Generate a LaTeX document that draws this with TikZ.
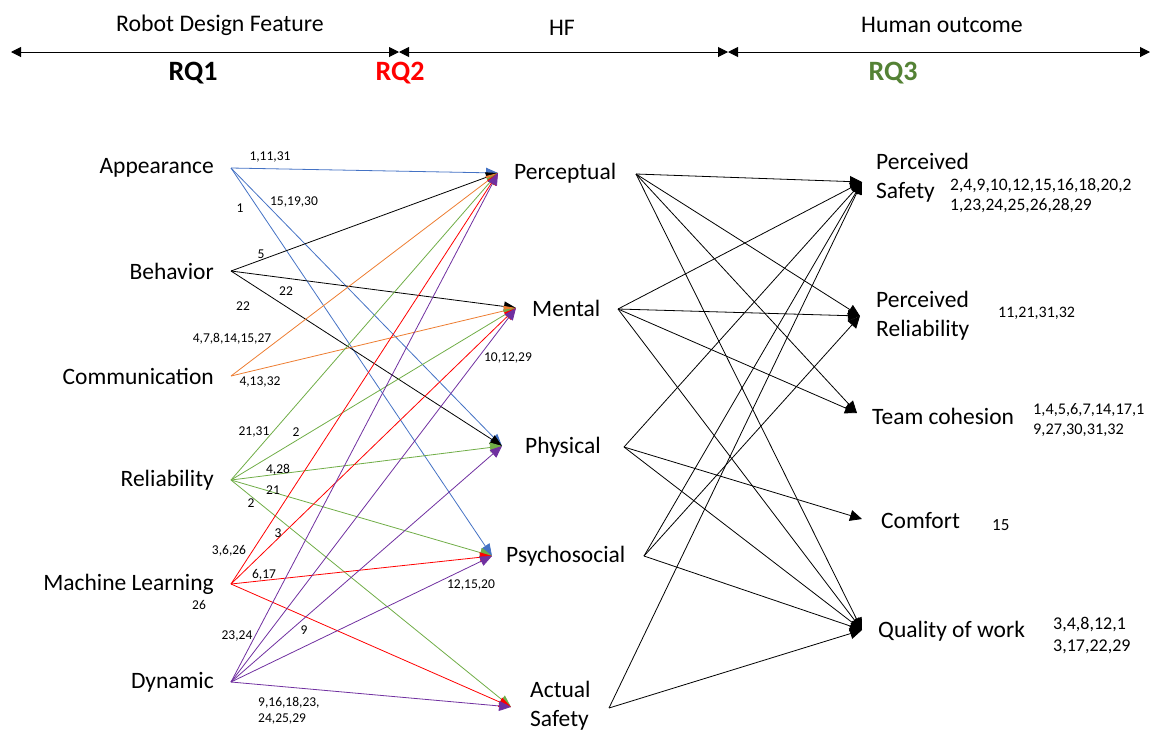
\documentclass[tikz,border=0pt]{standalone}
\usepackage{fontspec}
\setmainfont{Carlito}
\usetikzlibrary{arrows.meta}
\definecolor{cblue}{HTML}{4472C4}
\definecolor{corange}{HTML}{ED7D31}
\definecolor{cgreen}{HTML}{70AD47}
\definecolor{cred}{HTML}{FF0000}
\definecolor{cpurple}{HTML}{7030A0}
\definecolor{rqgreen}{HTML}{548235}
\begin{document}
\begin{tikzpicture}[x=1pt,y=-1pt,
  big/.style={font=\fontsize{23.5}{29}\selectfont, inner sep=0pt, align=left},
  head/.style={font=\fontsize{23.8}{28}\selectfont, inner sep=0pt},
  rq/.style={font=\fontsize{28}{30}\selectfont\bfseries, inner sep=0pt},
  num/.style={font=\fontsize{13.5}{16}\selectfont, inner sep=0pt, align=left},
  rnum/.style={font=\fontsize{17.5}{20}\selectfont, inner sep=0pt, align=left, anchor=west},
  link/.style={line width=0.8pt, -{Triangle[length=12pt,width=10pt]}},
  outlink/.style={line width=0.8pt, black, -{Triangle[length=12pt,width=11pt]}},
  span/.style={line width=1pt, {Triangle[length=10pt,width=10pt]}-{Triangle[length=10pt,width=10pt]}}]
\useasboundingbox (0,0) rectangle (1159,732);

% ---- header scale ----
\coordinate (t0) at (11,52);
\coordinate (t1) at (399,52);
\coordinate (t2) at (728,52);
\coordinate (t3) at (1150,52);
\draw[span] (t0) -- (t1);
\draw[span] (t1) -- (t2);
\draw[span] (t2) -- (t3);
\node[head] (hrdf) at (220,25) {Robot Design Feature};
\node[head] (hhf) at (562,28) {HF};
\node[head] (hho) at (942,25) {Human outcome};
\node[rq] (rq1) at (193,73) {RQ1};
\node[rq, text=cred] (rq2) at (400,73) {RQ2};
\node[rq, text=rqgreen] (rq3) at (893,73) {RQ3};

% ---- robot design features ----
\node[big, anchor=east] (app) at (214,168) {Appearance};
\node[big, anchor=east] (beh) at (214,271) {Behavior};
\node[big, anchor=east] (com) at (214,376) {Communication};
\node[big, anchor=east] (rel) at (214,480) {Reliability};
\node[big, anchor=east] (ml)  at (214,584) {Machine Learning};
\node[big, anchor=east] (dyn) at (214,682) {Dynamic};
\coordinate (app-o) at (231,168);
\coordinate (beh-o) at (231,271);
\coordinate (com-o) at (231,376);
\coordinate (rel-o) at (231,480);
\coordinate (ml-o)  at (231,584);
\coordinate (dyn-o) at (231,682);

% ---- human factors ----
\node[big, anchor=west] (perc) at (514,173) {Perceptual};
\node[big, anchor=west] (ment) at (532,308) {Mental};
\node[big, anchor=west] (phys) at (525,447) {Physical};
\node[big, anchor=west] (psy)  at (506,556) {Psychosocial};
\node[big, anchor=west] (act)  at (530,706) {Actual\\Safety};
\coordinate (perc-i) at (498,173);
\coordinate (ment-i) at (516,308);
\coordinate (phys-i) at (502,446);
\coordinate (psy-i)  at (492,556);
\coordinate (act-i)  at (511,707);
\coordinate (perc-o) at (636,174);
\coordinate (ment-o) at (618,309);
\coordinate (phys-o) at (624,447);
\coordinate (psy-o)  at (644,556);
\coordinate (act-o)  at (609,708);

% ---- human outcomes ----
\node[big, anchor=west] (ps) at (876,178) {Perceived\\Safety};
\node[big, anchor=west] (pr) at (876,316) {Perceived\\Reliability};
\node[big, anchor=west] (tc) at (872,416) {Team cohesion};
\node[big, anchor=west] (cf) at (881,521) {Comfort};
\node[big, anchor=west] (qw) at (878,631) {Quality of work};
\coordinate (ps-i) at (862,182);
\coordinate (pr-i) at (860,316);
\coordinate (tc-i) at (857,413);
\coordinate (cf-i) at (862,519);
\coordinate (qw-i) at (862,630);

% ---- features to human factors ----
\draw[link, cblue] (app-o) -- (perc-i);
\draw[link, cblue] (app-o) -- (phys-i);
\draw[link, cblue] (app-o) -- (psy-i);
\draw[link, black] (beh-o) -- (perc-i);
\draw[link, black] (beh-o) -- (ment-i);
\draw[link, black] (beh-o) -- (phys-i);
\draw[link, corange] (com-o) -- (perc-i);
\draw[link, corange] (com-o) -- (ment-i);
\draw[link, cgreen] (rel-o) -- (perc-i);
\draw[link, cgreen] (rel-o) -- (ment-i);
\draw[link, cgreen] (rel-o) -- (phys-i);
\draw[link, cgreen] (rel-o) -- (psy-i);
\draw[link, cgreen] (rel-o) -- (act-i);
\draw[link, cred] (ml-o) -- (perc-i);
\draw[link, cred] (ml-o) -- (ment-i);
\draw[link, cred] (ml-o) -- (psy-i);
\draw[link, cred] (ml-o) -- (act-i);
\draw[link, cpurple] (dyn-o) -- (perc-i);
\draw[link, cpurple] (dyn-o) -- (ment-i);
\draw[link, cpurple] (dyn-o) -- (phys-i);
\draw[link, cpurple] (dyn-o) -- (psy-i);
\draw[link, cpurple] (dyn-o) -- (act-i);

% ---- human factors to outcomes ----
\draw[outlink] (perc-o) -- (ps-i);
\draw[outlink] (perc-o) -- (pr-i);
\draw[outlink] (perc-o) -- (tc-i);
\draw[outlink] (perc-o) -- (qw-i);
\draw[outlink] (ment-o) -- (ps-i);
\draw[outlink] (ment-o) -- (pr-i);
\draw[outlink] (ment-o) -- (tc-i);
\draw[outlink] (ment-o) -- (qw-i);
\draw[outlink] (phys-o) -- (ps-i);
\draw[outlink] (phys-o) -- (cf-i);
\draw[outlink] (phys-o) -- (qw-i);
\draw[outlink] (psy-o) -- (ps-i);
\draw[outlink] (psy-o) -- (pr-i);
\draw[outlink] (psy-o) -- (qw-i);
\draw[outlink] (act-o) -- (ps-i);
\draw[outlink] (act-o) -- (qw-i);

% ---- study references on the left links ----
\node[num] (n1) at (270,157) {1,11,31};
\node[num] (n2) at (294,202) {15,19,30};
\node[num] (n3) at (240,208) {1};
\node[num] (n4) at (261,254) {5};
\node[num] (n5) at (286,291) {22};
\node[num] (n6) at (243,306) {22};
\node[num] (n7) at (232,339) {4,7,8,14,15,27};
\node[num] (n8) at (260,382) {4,13,32};
\node[num] (n9) at (254,432) {21,31};
\node[num] (n10) at (296,432) {2};
\node[num] (n11) at (278,470) {4,28};
\node[num] (n12) at (273,490) {21};
\node[num] (n13) at (251,503) {2};
\node[num] (n14) at (278,533) {3};
\node[num] (n15) at (229,551) {3,6,26};
\node[num] (n16) at (264,575) {6,17};
\node[num] (n17) at (199,605) {26};
\node[num] (n18) at (237,636) {23,24};
\node[num] (n19) at (304,630) {9};
\node[num] (n20) at (508,358) {10,12,29};
\node[num] (n21) at (471,585) {12,15,20};
\node[num, anchor=west] (n22) at (258,711) {9,16,18,23,\\24,25,29};

% ---- study references on the outcomes ----
\node[rnum] (r1) at (950,196) {2,4,9,10,12,15,16,18,20,2\\1,23,24,25,26,28,29};
\node[rnum, font=\fontsize{16}{19}\selectfont] (r2) at (998,313) {11,21,31,32};
\node[rnum, font=\fontsize{16.3}{20}\selectfont] (r3) at (1033,420) {1,4,5,6,7,14,17,1\\9,27,30,31,32};
\node[rnum, font=\fontsize{17}{20}\selectfont] (r4) at (992,525) {15};
\node[rnum, font=\fontsize{18}{22}\selectfont] (r5) at (1053,635) {3,4,8,12,1\\3,17,22,29};
\end{tikzpicture}
\end{document}
